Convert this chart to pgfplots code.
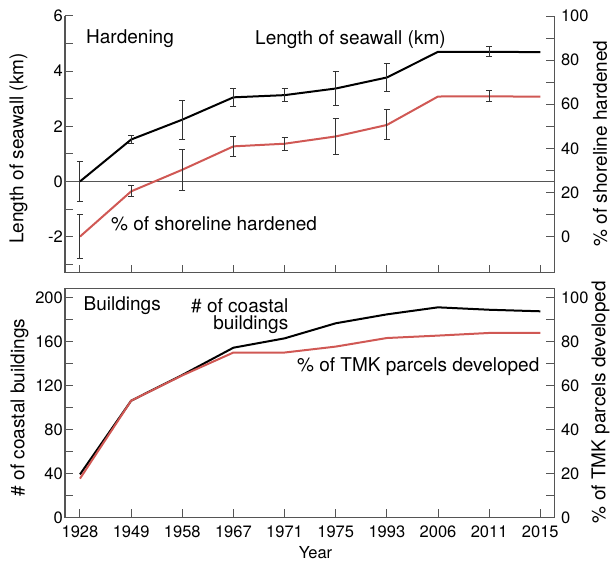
\documentclass[border=0pt]{standalone}
\usepackage{pgfplots}
\pgfplotsset{compat=1.18}
\usepackage{fontspec}
\setmainfont{TeX Gyre Heros}
\definecolor{axc}{HTML}{555555}
\definecolor{errc}{HTML}{333333}
\definecolor{redc}{RGB}{208,88,84}
\newcommand{\lab}{\fontsize{19bp}{22bp}\selectfont}
\newcommand{\tck}{\fontsize{16.5bp}{19bp}\selectfont}
\begin{document}
\begin{tikzpicture}
\useasboundingbox (0,0) rectangle (610bp,-564bp);
\pgfplotsset{
  common/.style={
    scale only axis, width=489.3bp, xmin=-0.293, xmax=9.274,
    tick align=inside, major tick length=8bp, minor tick length=8bp,
    every tick/.style={axc, line width=1bp},
    axis line style={-, axc, line width=1.2bp},
    tick label style={font=\tck},
    /pgf/number format/assume math mode=true,
    xtick={0,...,9},
  },
  errs/.style={draw=none, forget plot,
    error bars/.cd, y dir=both, y explicit,
    error bar style={draw=errc, line width=1bp},
    error mark options={rotate=90, draw=errc, line width=1bp, mark size=3bp}},
}
% ---------- top: length of seawall (km), left axis
\begin{axis}[common, at={(65bp,-272.7bp)}, anchor=south west, height=256.7bp,
  ymin=-3.31, ymax=6, axis x line*=bottom, axis y line*=left,
  ytick={-2,0,2,4,6}, minor ytick={-3,-1,1,3,5}, xticklabels={},
  yticklabel style={inner xsep=2bp}]
\addplot[axc, line width=1bp, forget plot] coordinates {(-0.293,0) (9.274,0)};
\addplot[black, line width=2bp] coordinates {
(0,0) (1,1.52) (2,2.24) (3,3.05) (4,3.13) (5,3.37) (6,3.77) (7,4.70) (8,4.70) (9,4.69)};
\addplot[errs] coordinates {
(0,0) +- (0,0.74)
(1,1.52) +- (0,0.15)
(2,2.24) +- (0,0.71)
(3,3.05) +- (0,0.33)
(4,3.13) +- (0,0.23)
(5,3.37) +- (0,0.61)
(6,3.77) +- (0,0.50)
(8,4.72) +- (0,0.18)};
\end{axis}
% ---------- top: % of shoreline hardened, right axis
\begin{axis}[common, at={(65bp,-272.7bp)}, anchor=south west, height=256.7bp,
  ymin=-16.375, ymax=100, axis x line=none, axis y line*=right,
  ytick={0,20,...,100}, minor ytick={10,30,...,90},
  yticklabel style={inner xsep=6.5bp}]
\addplot[redc, line width=2bp] coordinates {
(0,0) (1,20.5) (2,30.3) (3,40.9) (4,42.1) (5,45.4) (6,50.6) (7,63.5) (8,63.6) (9,63.4)};
\addplot[errs] coordinates {
(0,0) +- (0,9.8)
(1,20.5) +- (0,2.5)
(2,30.3) +- (0,9.4)
(3,40.9) +- (0,4.5)
(4,42.1) +- (0,3.0)
(5,45.4) +- (0,8.2)
(6,50.6) +- (0,6.8)
(8,63.6) +- (0,2.4)};
\end{axis}
% ---------- bottom: buildings, left axis
\begin{axis}[common, at={(65bp,-517.3bp)}, anchor=south west, height=229bp,
  ymin=0, ymax=208.2, xtick pos=bottom, ytick pos=left,
  ytick={0,40,...,200}, minor ytick={20,60,...,180},
  xticklabels={1928,1949,1958,1967,1971,1975,1993,2006,2011,2015},
  xticklabel style={yshift=-4.5bp},
  yticklabel style={inner xsep=2bp}]
\addplot[black, line width=2bp] coordinates {
(0,39) (1,106) (2,129.4) (3,154.2) (4,162.7) (5,176.4) (6,184.5) (7,190.9) (8,188.7) (9,187.3)};
\end{axis}
% ---------- bottom: % TMK parcels developed, right axis
\begin{axis}[common, at={(65bp,-517.3bp)}, anchor=south west, height=229bp,
  ymin=0, ymax=104.1, axis x line=none, axis y line*=right,
  ytick={0,20,...,100}, minor ytick={10,30,...,90},
  yticklabel style={inner xsep=6.5bp}]
\addplot[redc, line width=2bp] coordinates {
(0,17.6) (1,53) (2,64.5) (3,74.9) (4,74.9) (5,77.6) (6,81.5) (7,82.6) (8,83.8) (9,83.8)};
\end{axis}
% ---------- texts
\node[anchor=base west, inner sep=0pt, font=\lab] at (86bp,-43bp) {Hardening};
\node[anchor=base west, inner sep=0pt, font=\lab] at (255bp,-44.5bp) {Length of seawall (km)};
\node[anchor=base west, inner sep=0pt, font=\lab] at (111bp,-230bp) {\% of shoreline hardened};
\node[anchor=base west, inner sep=0pt, font=\lab] at (83.5bp,-310.7bp) {Buildings};
\node[anchor=base east, inner sep=0pt, font=\lab] at (288.5bp,-312.5bp) {\# of coastal};
\node[anchor=base east, inner sep=0pt, font=\lab] at (288.5bp,-329.5bp) {buildings};
\node[anchor=base east, inner sep=0pt, font=\lab] at (539.5bp,-371.7bp) {\% of TMK parcels developed};
\node[anchor=base, inner sep=0pt, font=\tck] at (315.5bp,-558bp) {Year};
\node[rotate=90, inner sep=0pt, font=\lab] at (18.5bp,-148.5bp) {Length of seawall (km)};
\node[rotate=90, inner sep=0pt, font=\lab] at (600bp,-143.5bp) {\% of shoreline hardened};
\node[rotate=90, inner sep=0pt, font=\lab] at (19.5bp,-407.5bp) {\# of coastal buildings};
\node[rotate=90, inner sep=0pt, font=\lab] at (600.5bp,-402bp) {\% of TMK parcels developed};
\end{tikzpicture}
\end{document}
